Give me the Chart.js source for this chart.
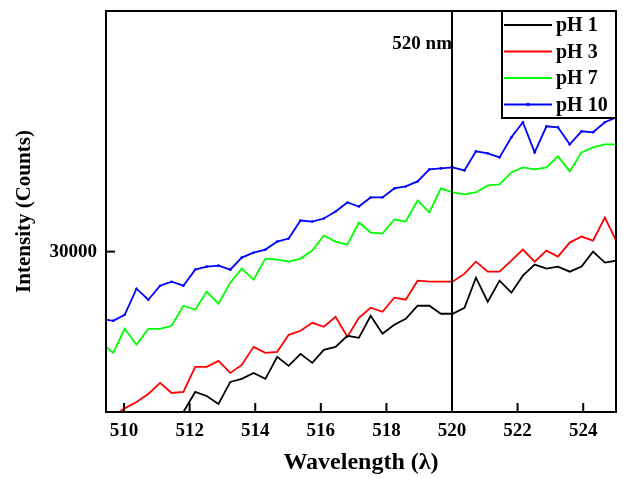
<!DOCTYPE html>
<html>
<head>
<meta charset="utf-8">
<title>Intensity vs Wavelength</title>
<script src="https://cdn.jsdelivr.net/npm/chart.js@4.4.1/dist/chart.umd.min.js"></script>
<style>
  html, body { margin: 0; padding: 0; background: #fff; }
  canvas { display: block; }
</style>
</head>
<body>
<canvas id="chart" width="623" height="479"></canvas>
<script>
// Emission spectra at four pH values, zoomed on 510-525 nm

const wavelengths = [
  509.31, 509.67, 510.02, 510.38, 510.74, 511.10, 511.45, 511.81, 512.17, 512.52,
  512.88, 513.24, 513.59, 513.95, 514.31, 514.67, 515.02, 515.38, 515.74, 516.09,
  516.45, 516.81, 517.16, 517.52, 517.88, 518.24, 518.59, 518.95, 519.31, 519.66,
  520.02, 520.38, 520.73, 521.09, 521.45, 521.81, 522.16, 522.52, 522.88, 523.23,
  523.59, 523.95, 524.30, 524.66, 525.02,
]

const ph1 = [
  25050, 25150, 25300, 25375, 25500, 25675, 25500, 26000, 26500, 26400,
  26200, 26750, 26825, 26975, 26825, 27375, 27150, 27450, 27225, 27550,
  27625, 27900, 27850, 28400, 27950, 28175, 28325, 28650, 28650, 28450,
  28450, 28600, 29350, 28750, 29275, 28975, 29400, 29675, 29575, 29625,
  29500, 29625, 30000, 29725, 29775,
]

const ph3 = [
  25700, 25900, 26090, 26250, 26450, 26725, 26475, 26500, 27125, 27125,
  27275, 26975, 27175, 27625, 27475, 27500, 27925, 28025, 28225, 28125,
  28375, 27875, 28350, 28600, 28500, 28850, 28800, 29275, 29250, 29250,
  29250, 29450, 29750, 29500, 29500, 29775, 30050, 29750, 30025, 29875,
  30225, 30375, 30275, 30850, 30250,
]

const ph7 = [
  27725, 27475, 28075, 27675, 28075, 28075, 28150, 28650, 28550, 29000,
  28700, 29225, 29575, 29300, 29825, 29800, 29750, 29825, 30025, 30400,
  30250, 30175, 30725, 30475, 30450, 30800, 30750, 31275, 30975, 31575,
  31475, 31425, 31475, 31650, 31675, 31975, 32100, 32050, 32100, 32375,
  32000, 32475, 32600, 32675, 32675,
]

const ph10 = [
  28325, 28275, 28425, 29075, 28800, 29150, 29250, 29150, 29550, 29625,
  29650, 29550, 29850, 29975, 30050, 30250, 30325, 30775, 30750, 30825,
  31000, 31225, 31125, 31350, 31350, 31575, 31625, 31750, 32050, 32075,
  32100, 32025, 32500, 32450, 32350, 32850, 33225, 32475, 33125, 33100,
  32675, 33000, 32975, 33225, 33350,
]

const seriesLabels = ["pH 1", "pH 3", "pH 7", "pH 10"]
const seriesColors = ["#000000", "#ff0000", "#00ff00", "#0000ff"]
const xTicks = [510, 512, 514, 516, 518, 520, 522, 524]
const yTicks = [30000]
const markerAt = 520
const markerLabel = "520 nm"

const serif = "'Liberation Serif', 'Times New Roman', serif"

const toPoints = (ys) => ys.map((v, i) => ({ x: wavelengths[i], y: v }))

// frame, inward ticks, 520 nm marker and boxed legend
const decorations = {
  id: "decorations",
  afterDatasetsDraw(chart) {
    const { ctx, chartArea: a, scales: { x, y } } = chart
    const line = (x1, y1, x2, y2) => {
      ctx.beginPath(); ctx.moveTo(x1, y1); ctx.lineTo(x2, y2); ctx.stroke()
    }
    ctx.save()
    ctx.strokeStyle = "#000"
    ctx.fillStyle = "#000"
    ctx.lineWidth = 2

    const mx = x.getPixelForValue(markerAt)
    line(mx, a.top, mx, a.bottom)
    ctx.font = `bold 19px ${serif}`
    ctx.textAlign = "right"
    ctx.textBaseline = "middle"
    ctx.fillText(markerLabel, mx, a.top + 33)

    xTicks.forEach(v => {
      const px = x.getPixelForValue(v)
      line(px, a.bottom, px, a.bottom - 9)
    })
    yTicks.forEach(v => {
      const py = y.getPixelForValue(v)
      line(a.left, py, a.left + 9, py)
    })

    ctx.strokeRect(a.left, a.top, a.right - a.left, a.bottom - a.top)

    // legend box in the top right corner
    const bw = 114, bh = 107
    const bx = a.right - bw, by = a.top
    ctx.fillStyle = "#fff"
    ctx.fillRect(bx, by, bw, bh)
    ctx.strokeRect(bx, by, bw, bh)
    ctx.font = `bold 20px ${serif}`
    ctx.textAlign = "left"
    chart.data.datasets.forEach((ds, i) => {
      const ry = by + 14 + i * 26.5
      ctx.strokeStyle = ds.borderColor
      ctx.lineWidth = 2
      line(bx + 2, ry, bx + 50, ry)
      if (ds.pointRadius > 0) {
        ctx.fillStyle = ds.borderColor
        ctx.beginPath(); ctx.arc(bx + 26, ry, 1.8, 0, Math.PI * 2); ctx.fill()
      }
      ctx.fillStyle = "#000"
      ctx.fillText(ds.label, bx + 54, ry + 1)
    })
    ctx.restore()
  },
}

new Chart(document.getElementById("chart"), {
  type: "line",
  data: {
    datasets: [ph1, ph3, ph7, ph10].map((ys, i) => ({
      label: seriesLabels[i],
      data: toPoints(ys),
      borderColor: seriesColors[i],
      backgroundColor: seriesColors[i],
      borderWidth: 1.8,
      pointRadius: i === 3 ? 1.3 : 0,
      pointBorderWidth: 0,
      tension: 0,
    })),
  },
  options: {
    responsive: false,
    animation: false,
    layout: { padding: { top: 11, right: 7, left: 0, bottom: 0 } },
    plugins: {
      legend: { display: false },
      tooltip: { enabled: false },
    },
    scales: {
      x: {
        type: "linear",
        min: 509.45,
        max: 525,
        afterBuildTicks: (s) => { s.ticks = xTicks.map(v => ({ value: v })) },
        afterFit: (s) => { s.height = 67; s.paddingLeft = 0; s.paddingRight = 0 },
        grid: { display: false, drawTicks: false },
        border: { display: false },
        ticks: {
          color: "#000",
          padding: 8,
          font: { family: serif, size: 19, weight: "bold" },
          callback: (v) => v,
        },
        title: {
          display: true,
          text: "Wavelength (λ)",
          color: "#000",
          font: { family: serif, size: 24, weight: "bold" },
          padding: { top: 0, bottom: 2 },
        },
      },
      y: {
        min: 26000,
        max: 36000,
        afterBuildTicks: (s) => { s.ticks = yTicks.map(v => ({ value: v })) },
        afterFit: (s) => { s.width = 106; s.paddingTop = 0; s.paddingBottom = 0 },
        grid: { display: false, drawTicks: false },
        border: { display: false },
        ticks: {
          color: "#000",
          padding: 9,
          font: { family: serif, size: 19, weight: "bold" },
          callback: (v) => v,
        },
        title: {
          display: true,
          text: "Intensity (Counts)",
          color: "#000",
          font: { family: serif, size: 21, weight: "bold" },
          padding: { top: 12, bottom: 0 },
        },
      },
    },
  },
  plugins: [decorations],
})
</script>
</body>
</html>
